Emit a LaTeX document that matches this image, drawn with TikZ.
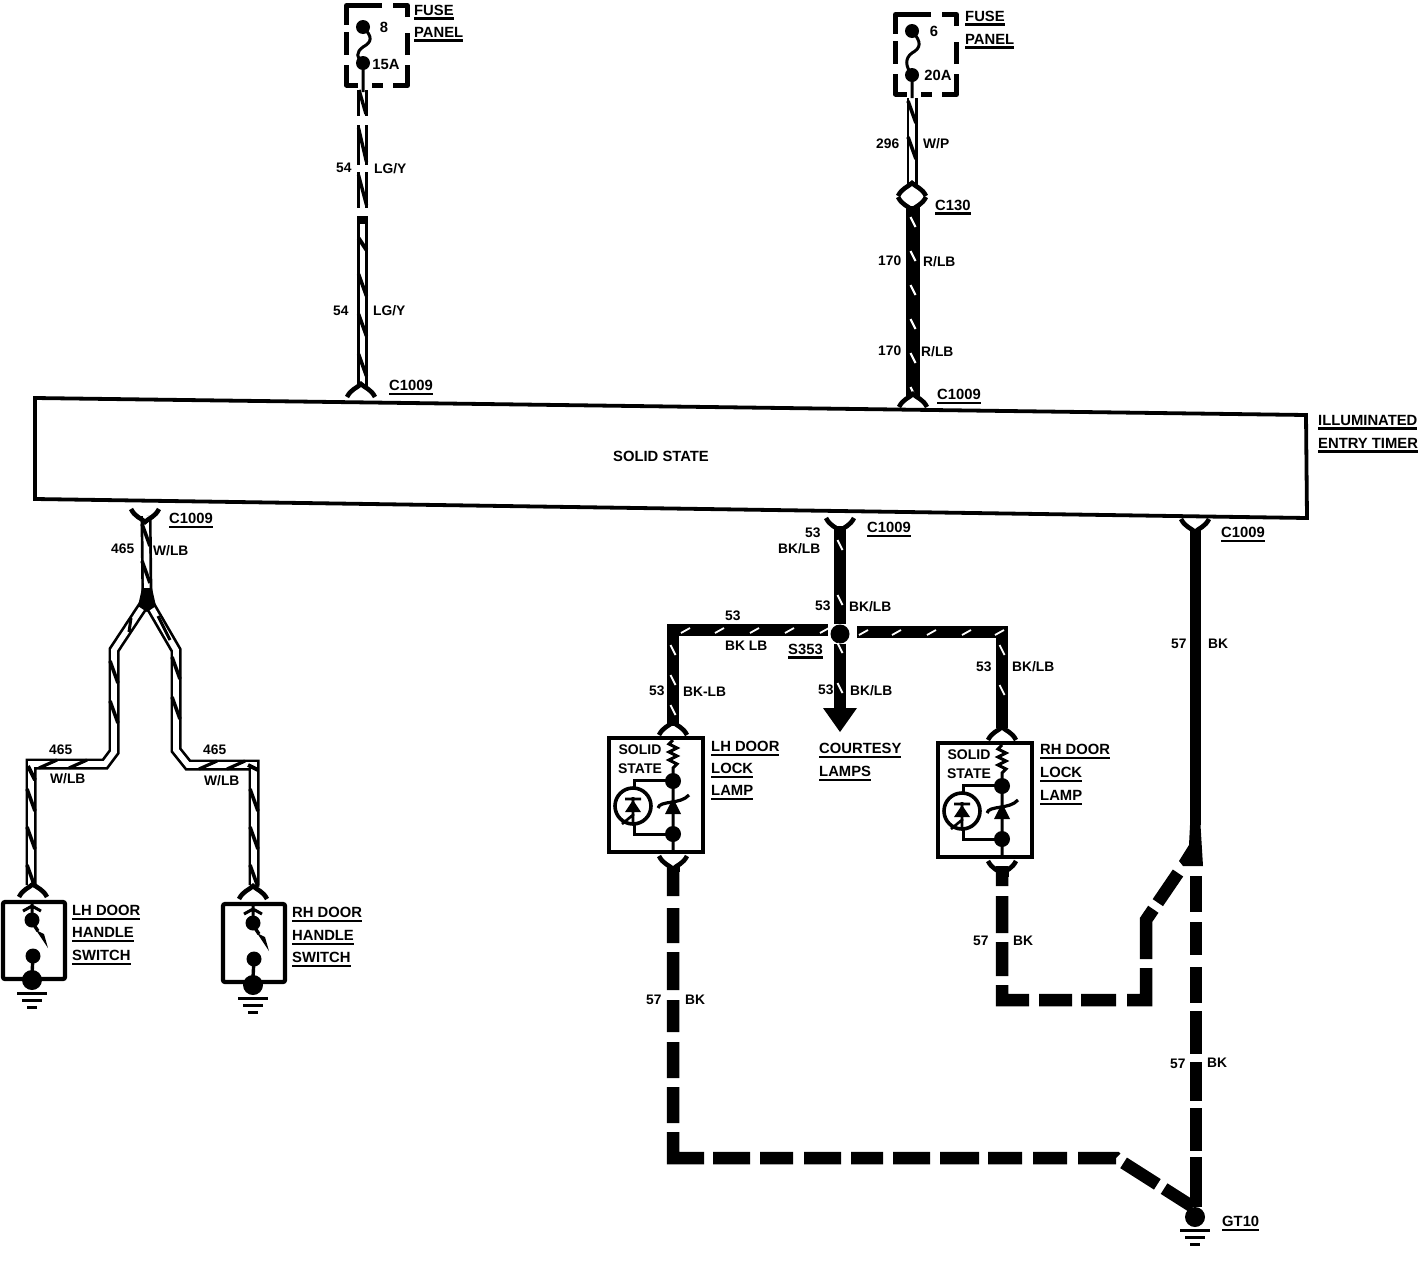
\documentclass[tikz,border=0pt]{standalone}
\usepackage{fontspec}
\setmainfont{Liberation Sans}[BoldFont={Liberation Sans Bold}]
\newcommand\ulx[1]{\setbox2=\hbox{#1}\leavevmode\smash{\rlap{\rule[-5pt]{\wd2}{2.6pt}}}\box2}
% white stripes on black wire / black stripes on white wire
\newcommand\stripeV[6][]{\foreach \q in {#3,#4,...,#5}{\draw[#6,line width=1.8pt,#1] (#2-2.5,\q-5) -- (#2+2.5,\q+5);}}
\newcommand\twist[4]{\foreach \q in {#2,#3,...,#4}{\draw[line width=3.6pt] (#1-4,\q-11) -- (#1+4,\q+11);}}
\newcommand\twistH[4]{\foreach \q in {#2,#3,...,#4}{\draw[line width=3.2pt] (\q-9,#1+4) -- (\q+9,#1-4);}}
\newcommand\conD[2]{\draw[conn] (#1-14,#2+6) .. controls (#1-10,#2-2) and (#1-4,#2-3) .. (#1,#2-7) .. controls (#1+4,#2-3) and (#1+10,#2-2) .. (#1+14,#2+6);}
\newcommand\conU[2]{\draw[conn] (#1-14,#2-6) .. controls (#1-10,#2+2) and (#1-4,#2+3) .. (#1,#2+7) .. controls (#1+4,#2+3) and (#1+10,#2+2) .. (#1+14,#2-6);}
\newcommand\gnd[2]{\fill (#1,#2) circle (10);
 \draw[line width=3pt] (#1-15,#2+13) -- (#1+15,#2+13) (#1-10,#2+20) -- (#1+10,#2+20) (#1-5,#2+27) -- (#1+5,#2+27);}
\begin{document}
\begin{tikzpicture}[x=1pt,y=-1pt,
 lab/.style={inner sep=0pt,font=\bfseries\fontsize{14.8}{14.8}\selectfont,anchor=west},
 wl/.style={inner sep=0pt,font=\bfseries\fontsize{13.8}{13.8}\selectfont,anchor=west},
 conn/.style={line width=4.6pt},
 whitewire/.style={line width=11pt,line join=miter,postaction={draw,white,line width=5.6pt}},
 bkdash/.style={line width=12.5pt,line join=miter},
 box/.style={line width=4.2pt,rounded corners=2pt},
 fz/.style={line width=5pt,line join=round},
 dot/.style={circle,fill,inner sep=0pt,minimum size=#1}]
\useasboundingbox (0,0) rectangle (1422,1264);

% ---- named points
\coordinate (boxNW) at (35,398);\coordinate (boxNE) at (1306,415);
\coordinate (boxSE) at (1307,518);\coordinate (boxSW) at (35,499);
\coordinate (c130) at (913,206);
\coordinate (c3b) at (146,516);\coordinate (c4b) at (840,526);\coordinate (c5b) at (1195,530);
\coordinate (split) at (147,600);
\node[dot=19pt] (s353) at (840,634) {};
\coordinate (lhL) at (673,726);\coordinate (rhL) at (1002,728);
\coordinate (lhLb) at (673,866);\coordinate (rhLb) at (1002,866);
\coordinate (gj) at (1178,873);\coordinate (gjtop) at (1195,825);
\coordinate (gjs) at (1196,876);
\coordinate (gte) at (1196,1207);\coordinate (gtd) at (1193,1207);

% ---- timer
\draw[line width=3.8pt,line join=miter] (boxNW) -- (boxNE) -- (boxSE) -- (boxSW) -- cycle;
\node[lab,anchor=center] (ss) at (661,456) {SOLID STATE};
\node[lab] (t1) at (1318,420) {\ulx{ILLUMINATED}};
\node[lab] (t2) at (1318,443) {\ulx{ENTRY TIMER}};

% ---- wire 54
\draw[whitewire] (362.5,90) -- (362.5,116);
\draw[whitewire] (362.5,125) -- (362.5,165);
\draw[whitewire] (362.5,172) -- (362.5,208);
\draw[whitewire] (362.5,216) -- (362.5,386);
\draw[line width=3.4pt] (359,90) -- (366,114) (358.5,128) -- (366.5,162) (358.5,175) -- (366.5,205);
\draw[line width=6pt] (362.5,216) -- (362.5,224);
\draw[line width=4pt] (358.5,238) -- (366.5,250);
\twist{362.5}{285}{325}{370}
\conD{361}{391}
% ---- wire 296 / 170
\draw[whitewire] (912,98) -- (912,188);
\twist{912}{112}{148}{176}
\conD{912}{190}
\conU{912}{203}
\draw[line width=14pt] (c130) -- (913,396);
\stripeV[line width=2.2pt]{913}{222}{256}{392}{white}
\conD{913}{401}
% ---- fuses
\foreach \x/\y in {0/0,549/9}{
\begin{scope}[shift={(\x,\y)}]
 \draw[fz] (382,5.5) -- (346.5,5.5) -- (346.5,25) (346.5,32) -- (346.5,55) (346.5,65) -- (346.5,85) -- (358,85) (372,85.5) -- (383,85.5) (393,85.5) -- (407.5,85.5) -- (407.5,65) (407.5,55) -- (407.5,33) (407.5,17) -- (407.5,5.5) -- (393,5.5);
\end{scope}}
\fill (363,27) circle (7) (363,63) circle (7);
\draw[line width=3pt] (363,27) .. controls (373,37) and (372,42) .. (363,47) .. controls (356,52) and (356,58) .. (363,63) -- (363,92);
\fill (912,31) circle (7) (912,75) circle (7);
\draw[line width=3pt] (912,31) .. controls (922,42) and (921,48) .. (912,53) .. controls (905,58) and (905,66) .. (912,75) -- (912,98);
\node[lab,anchor=center] (f8) at (384,27) {8};
\node[lab,anchor=center] (f15) at (386,64) {15A};
\node[lab,anchor=center] (f6) at (934,31) {6};
\node[lab,anchor=center] (f20) at (938,75) {20A};
\node[lab] (fp1) at (414,10) {\ulx{FUSE}};
\node[lab] (fp2) at (414,32) {\ulx{PANEL}};
\node[lab] (fp3) at (965,16) {\ulx{FUSE}};
\node[lab] (fp4) at (965,39) {\ulx{PANEL}};

% ---- wire labels top
\node[wl] at (336,168) {54};\node[wl] at (374,169) {LG/Y};
\node[wl] at (333,311) {54};\node[wl] at (373,311) {LG/Y};
\node[wl] at (876,144) {296};\node[wl] at (923,144) {W/P};
\node[wl] at (878,261) {170};\node[wl] at (923,262) {R/LB};
\node[wl] at (878,351) {170};\node[wl] at (921,352) {R/LB};
\node[lab] at (935,205) {\ulx{C130}};
\node[lab] at (389,385) {\ulx{C1009}};
\node[lab] at (937,394) {\ulx{C1009}};
\node[lab] at (169,518) {\ulx{C1009}};
\node[lab] at (867,527) {\ulx{C1009}};
\node[lab] at (1221,532) {\ulx{C1009}};

% ---- wire 465
\draw[whitewire] (c3b) -- (split);
\twist{146}{535}{572}{572}
\conU{145}{515}
\draw[whitewire] (31,885) -- (31,764) -- (105,764) -- (114,752) -- (114,650) -- (split);
\draw[whitewire] (split) -- (176,650) -- (176,750) -- (188,765) -- (254,765) -- (254,885);
\fill (142,588) -- (152,588) -- (156,606) -- (147,612) -- (138,606) -- cycle;
\twist{114}{672}{712}{732}
\twist{176}{668}{708}{728}
\twist{31}{800}{838}{876}
\twist{254}{800}{838}{876}
\twistH{764}{48}{78}{100}
\twistH{765}{208}{236}{236}
\draw[line width=3pt] (131,618) -- (129,632) (158,616) -- (170,640);
\draw[line width=4pt] (28,766) -- (35,780) (248,765) -- (258,770);
\node[wl] at (111,549) {465};\node[wl] at (153,551) {W/LB};
\node[wl] at (49,750) {465};\node[wl] at (50,779) {W/LB};
\node[wl] at (203,750) {465};\node[wl] at (204,781) {W/LB};
% ---- handle switches
\conD{33}{891}\conD{253}{893}
\draw[box] (3,902) rectangle (65,979);
\draw[box] (223,904) rectangle (285,982);
\foreach \x/\y in {32/900,253/903}{
 \draw[line width=3pt] (\x-9,\y+11) -- (\x,\y+6) -- (\x+9,\y+11) (\x,\y+2) -- (\x,\y+20);
 \fill (\x,\y+20) circle (7.5);
 \draw[line width=3.4pt] (\x,\y+22) -- (\x+6,\y+31);
 \fill (\x+4,\y+30) -- (\x+12,\y+34) -- (\x+16,\y+48) -- cycle;
 \fill (\x+1,\y+56) circle (7.5);
 \draw[line width=3.4pt] (\x+1,\y+56) -- (\x,\y+75);
}
\gnd{32}{980}\gnd{253}{985}
\node[lab] at (72,910) {\ulx{LH DOOR}};
\node[lab] at (72,932) {\ulx{HANDLE}};
\node[lab] at (72,955) {\ulx{SWITCH}};
\node[lab] at (292,912) {\ulx{RH DOOR}};
\node[lab] at (292,935) {\ulx{HANDLE}};
\node[lab] at (292,957) {\ulx{SWITCH}};

% ---- wire 53
\conU{840}{524}
\draw[line width=12pt] (c4b) -- (s353);
\stripeV{840}{545}{600}{600}{white}
\draw[line width=12pt,line join=miter] (828,630) -- (673,630) -- (lhL);
\draw[line width=12pt,line join=miter] (857,632) -- (1002,632) -- (rhL);
\foreach \q in {688,722,757,792,827} \draw[white,line width=1.8pt] (\q-7,633) -- (\q+2,628);
\foreach \q in {862,895,930,965,998} \draw[white,line width=1.8pt] (\q-3,635) -- (\q+6,630);
\stripeV{673}{650}{680}{720}{white}
\stripeV{1002}{650}{690}{722}{white}
\draw[line width=12pt] (s353) -- (840,708);
\stripeV{840}{648}{688}{688}{white}
\fill (823,708) -- (857,708) -- (840,732) -- cycle;
\node[wl] at (805,533) {53};\node[wl] at (778,549) {BK/LB};
\node[wl] at (815,606) {53};\node[wl] at (849,607) {BK/LB};
\node[wl] at (725,616) {53};\node[wl] at (725,646) {BK LB};
\node[lab] at (788,649) {\ulx{S353}};
\node[wl] at (818,690) {53};\node[wl] at (850,691) {BK/LB};
\node[wl] at (649,691) {53};\node[wl] at (683,692) {BK-LB};
\node[wl] at (976,667) {53};\node[wl] at (1012,667) {BK/LB};
\node[lab] at (819,748) {\ulx{COURTESY}};
\node[lab] at (819,771) {\ulx{LAMPS}};

% ---- lamps
\foreach \x/\y in {0/0,329/5}{
\begin{scope}[shift={(\x,\y)}]
 \conD{673}{729}
 \draw[line width=4pt,line join=miter] (609,738) rectangle (703,852);
 \node[lab,anchor=center,font=\bfseries\fontsize{14}{14}\selectfont] at (640,750) {SOLID};
 \node[lab,anchor=center,font=\bfseries\fontsize{14}{14}\selectfont] at (640,769) {STATE};
 \draw[line width=3pt] (673,740) -- ++(-4,4) -- ++(8,4) -- ++(-8,4) -- ++(8,4) -- ++(-8,4) -- ++(8,4) -- ++(-4,4) -- (673,852);
 \fill (673,781) circle (8) (673,834) circle (8);
 \fill (665,814) -- (681,814) -- (673,798) -- cycle;
 \draw[line width=3.2pt] (658,808) .. controls (660,800) and (680,805) .. (689,795);
 \draw[line width=3pt] (673,780) -- (634,780) -- (634,834) -- (673,834);
 \draw[line width=3.6pt,fill=white] (633,806) circle (18);
 \fill (625,812) -- (641,812) -- (633,800) -- cycle;
 \draw[line width=2.6pt] (625,799) -- (641,799) (633,797) -- (633,824) (622,824) -- (634,814);
 \conU{673}{862}
 \draw[line width=13pt] (673,866) -- (673,872);
\end{scope}}
\node[lab] at (711,746) {\ulx{LH DOOR}};
\node[lab] at (711,768) {\ulx{LOCK}};
\node[lab] at (711,790) {\ulx{LAMP}};
\node[lab] at (1040,749) {\ulx{RH DOOR}};
\node[lab] at (1040,772) {\ulx{LOCK}};
\node[lab] at (1040,795) {\ulx{LAMP}};

% ---- wire 57
\conU{1195}{525}
\draw[line width=11pt] (c5b) -- (gjtop);
\fill (1190,825) -- (1200.5,825) -- (1203,866) -- (1183,866) -- (1179,861) -- (1189,845) -- cycle;
\draw[bkdash,dash pattern=on 36pt off 10pt on 33pt off 12pt on 36pt off 8pt on 43pt off 8pt on 39pt off 7pt on 43pt off 6pt on 60pt off 1000pt] (gjs) -- (gte);
\draw[bkdash,dash pattern=on 20pt off 10pt on 37pt off 9pt on 34pt off 9pt on 42pt off 10pt on 33pt off 9pt on 35pt off 11pt on 51pt off 9pt on 52pt off 8pt on 60pt off 1000pt] (rhLb) -- (1002,1000) -- (1146,1000) -- (1146,920) -- (gj);
\draw[bkdash,dash pattern=on 30pt off 12pt on 35pt off 9pt on 38pt off 10pt on 32pt off 10pt on 36pt off 9pt on 36pt off 9pt on 57pt off 9pt on 37pt off 10pt on 33pt off 11pt on 37pt off 10pt on 32pt off 10pt on 37pt off 10pt on 39pt off 9pt on 34pt off 11pt on 34pt off 11pt on 38pt off 9pt on 40pt off 8pt on 60pt off 1000pt] (lhLb) -- (673,1158) -- (1116,1158) -- (gtd);
\gnd{1195}{1217}
\node[wl] at (1171,644) {57};\node[wl] at (1208,644) {BK};
\node[wl] at (646,1000) {57};\node[wl] at (685,1000) {BK};
\node[wl] at (973,941) {57};\node[wl] at (1013,941) {BK};
\node[wl] at (1170,1064) {57};\node[wl] at (1207,1063) {BK};
\node[lab] at (1222,1221) {\ulx{GT10}};
\end{tikzpicture}
\end{document}
